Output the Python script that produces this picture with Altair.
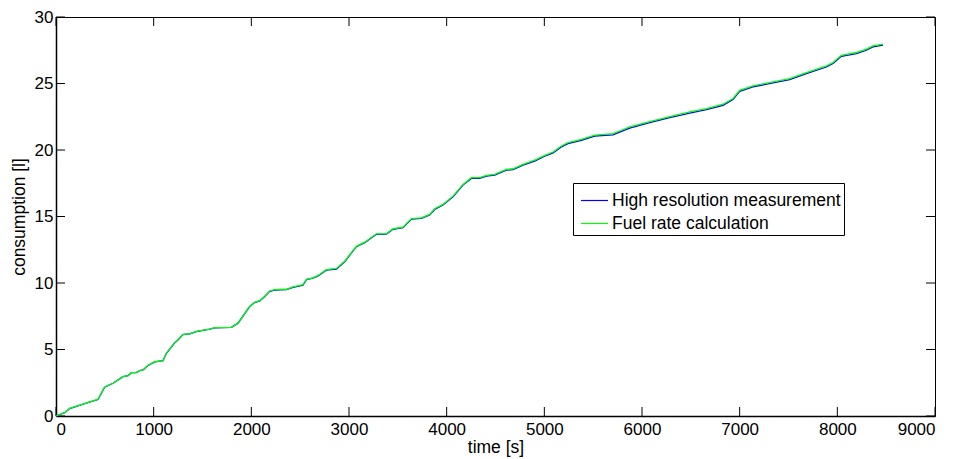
import altair as alt
import pandas as pd

# ---- data ----
time_s = [0, 89, 140, 277, 430, 498, 584, 686, 738, 772, 823, 857, 891, 942, 1010,
          1096, 1130, 1215, 1249, 1300, 1369, 1437, 1574, 1625, 1796, 1864, 1983, 2034,
          2086, 2137, 2188, 2239, 2359, 2427, 2529, 2564, 2632, 2683, 2768, 2871, 2956,
          3075, 3161, 3280, 3382, 3451, 3553, 3639, 3741, 3826, 3877, 3962, 4065, 4167,
          4253, 4338, 4407, 4492, 4611, 4679, 4782, 4901, 5004, 5089, 5174, 5242, 5379,
          5515, 5703, 5771, 5874, 6079, 6284, 6488, 6659, 6829, 6932, 7000, 7136, 7341,
          7512, 7683, 7888, 7956, 8041, 8195, 8297, 8365, 8467]

high_res = [0.0, 0.25, 0.56, 0.9, 1.24, 2.16, 2.46, 2.96, 3.04, 3.26, 3.26, 3.41, 3.46, 3.8, 4.07,
            4.17, 4.72, 5.5, 5.72, 6.12, 6.17, 6.35, 6.53, 6.62, 6.66, 6.98, 8.23, 8.53,
            8.65, 8.98, 9.38, 9.47, 9.5, 9.67, 9.84, 10.25, 10.36, 10.53, 10.97, 11.05, 11.6,
            12.73, 13.03, 13.66, 13.67, 14.04, 14.16, 14.8, 14.86, 15.12, 15.53, 15.86, 16.48, 17.36,
            17.86, 17.87, 18.03, 18.11, 18.48, 18.53, 18.86, 19.17, 19.53, 19.78, 20.23, 20.48, 20.72,
            21.04, 21.14, 21.35, 21.65, 22.05, 22.43, 22.78, 23.03, 23.36, 23.79, 24.41, 24.74, 25.04,
            25.29, 25.74, 26.24, 26.5, 27.04, 27.25, 27.5, 27.75, 27.88]

fuel_rate = [0.0, 0.25, 0.58, 0.9, 1.26, 2.18, 2.46, 2.96, 3.04, 3.26, 3.26, 3.42, 3.46, 3.82, 4.08,
             4.17, 4.72, 5.52, 5.73, 6.14, 6.18, 6.36, 6.54, 6.64, 6.67, 6.98, 8.24, 8.54,
             8.67, 8.99, 9.4, 9.5, 9.53, 9.7, 9.87, 10.28, 10.39, 10.57, 11.0, 11.09, 11.64,
             12.76, 13.07, 13.7, 13.71, 14.08, 14.2, 14.84, 14.9, 15.16, 15.58, 15.91, 16.53, 17.41,
             17.92, 17.93, 18.09, 18.17, 18.54, 18.59, 18.92, 19.24, 19.6, 19.85, 20.3, 20.55, 20.8,
             21.12, 21.23, 21.43, 21.73, 22.13, 22.51, 22.86, 23.11, 23.44, 23.87, 24.49, 24.82, 25.12,
             25.37, 25.82, 26.32, 26.58, 27.12, 27.33, 27.58, 27.83, 27.96]

x_ticks = [0, 1000, 2000, 3000, 4000, 5000, 6000, 7000, 8000, 9000]
y_ticks = [0, 5, 10, 15, 20, 25, 30]
series_names = ["High resolution measurement", "Fuel rate calculation"]
series_colors = ["#0000ff", "#00ff00"]

W, H = 879, 399
TICK = 9
FONT = "Liberation Sans"

df_high = pd.DataFrame({"time": time_s, "consumption": high_res, "series": series_names[0]})
df_fuel = pd.DataFrame({"time": time_s, "consumption": fuel_rate, "series": series_names[1]})

x_scale = alt.Scale(domain=[0, 9000], nice=False, zero=False)
y_scale = alt.Scale(domain=[0, 30], nice=False, zero=False)
color_scale = alt.Scale(domain=series_names, range=series_colors)

x_axis = alt.Axis(title="time [s]", values=x_ticks, format="d", ticks=False, grid=False,
                  labelPadding=5, titlePadding=1, labelFontSize=17, titleFontSize=17.5,
                  labelFont=FONT, titleFont=FONT, titleFontWeight="normal",
                  labelColor="black", titleColor="black", domainColor="black", domainWidth=1.5)
y_axis = alt.Axis(title="consumption [l]", values=y_ticks, ticks=False, grid=False,
                  labelPadding=3, titlePadding=6, labelFontSize=17, titleFontSize=17.5,
                  labelFont=FONT, titleFont=FONT, titleFontWeight="normal",
                  labelColor="black", titleColor="black", domainColor="black", domainWidth=1.5)

legend = alt.Legend(title=None, orient="none", legendX=517, legendY=166, direction="vertical",
                    symbolType="stroke", symbolSize=729, symbolStrokeWidth=1.2,
                    labelFont=FONT, labelFontSize=17.5, labelColor="black", labelOffset=3,
                    labelLimit=0, strokeColor="black", fillColor="white", padding=3,
                    symbolOffset=4, rowPadding=0, cornerRadius=0)

X = alt.X("time:Q", scale=x_scale, axis=x_axis)
Y = alt.Y("consumption:Q", scale=y_scale, axis=y_axis)

high_line = alt.Chart(df_high).mark_line(strokeWidth=1.3).encode(
    x=X, y=Y,
    color=alt.Color("series:N", scale=color_scale, legend=legend),
)
fuel_line = alt.Chart(df_fuel).mark_line(strokeWidth=1.3).encode(
    x=X, y=Y,
    color=alt.Color("series:N", scale=color_scale, legend=legend),
)

xt = pd.DataFrame({"t": x_ticks})
yt = pd.DataFrame({"v": y_ticks})
tick_style = dict(color="black", strokeWidth=1)
XT = alt.X("t:Q", scale=x_scale, axis=x_axis)
YT = alt.Y("v:Q", scale=y_scale, axis=y_axis)
x_bottom = alt.Chart(xt).mark_rule(**tick_style).encode(
    x=XT, y=alt.value(H), y2=alt.value(H - TICK))
x_top = alt.Chart(xt).mark_rule(**tick_style).encode(
    x=XT, y=alt.value(0), y2=alt.value(TICK))
y_left = alt.Chart(yt).mark_rule(**tick_style).encode(
    y=YT, x=alt.value(0), x2=alt.value(TICK))
y_right = alt.Chart(yt).mark_rule(**tick_style).encode(
    y=YT, x=alt.value(W), x2=alt.value(W - TICK))

chart = alt.layer(x_bottom, x_top, y_left, y_right, high_line, fuel_line).properties(
    width=W, height=H,
    autosize=alt.AutoSizeParams(type="none"),
    padding={"left": 56, "top": 17, "right": 24, "bottom": 43},
    background="white",
).configure_view(stroke="black", strokeWidth=1)

chart.save("out.html", embed_options={"renderer": "svg", "actions": False})
